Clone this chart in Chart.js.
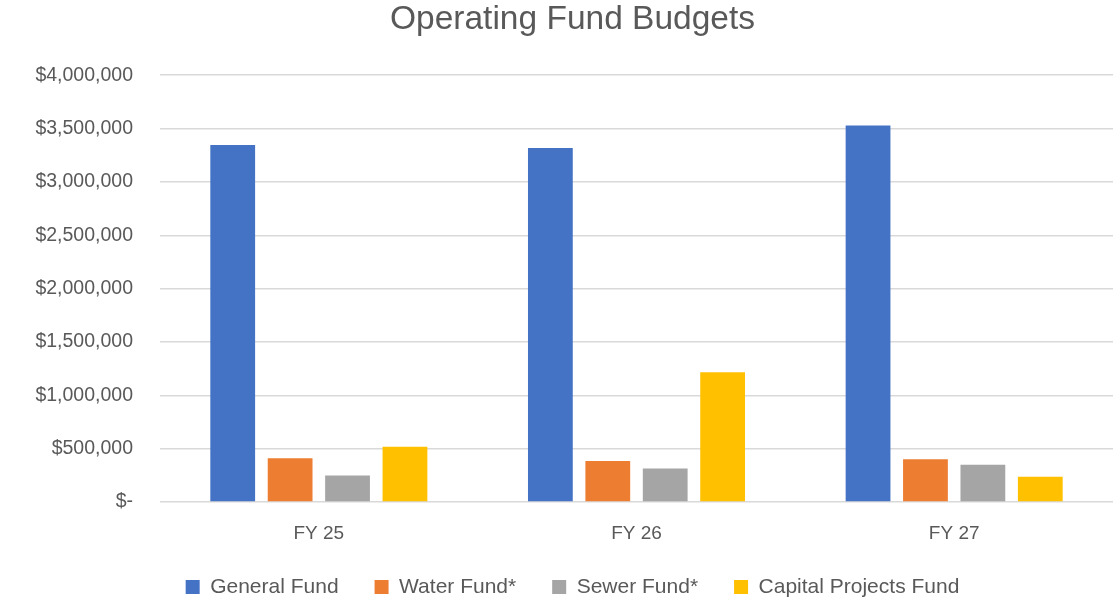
<!DOCTYPE html>
<html>
<head>
<meta charset="utf-8">
<script src="https://cdn.jsdelivr.net/npm/chart.js@4"></script>
<style>
  html, body { margin: 0; padding: 0; background: #fff; }
  #wrap { width: 1115px; height: 600px; }
</style>
</head>
<body>
<div id="wrap"><canvas id="fundChart" width="1115" height="600"></canvas></div>
<script>
  const years = ["FY 25", "FY 26", "FY 27"];
  const generalFund = [3345000, 3317000, 3528000];
  const waterFund = [410000, 385000, 400000];
  const sewerFund = [248000, 313000, 350000];
  const capitalFund = [517000, 1215000, 237000];
  const yTicks = [0, 500000, 1000000, 1500000, 2000000, 2500000, 3000000, 3500000, 4000000];

  const fontFamily = "'Liberation Sans', 'DejaVu Sans', sans-serif";
  const textColor = "#595959";

  // Excel accounting style: $- for zero
  function money(v) {
    if (v === 0) return "$-";
    return "$" + v.toLocaleString("en-US");
  }

  function bar(label, data, color) {
    return {
      label: label,
      data: data,
      backgroundColor: color,
      borderWidth: 0,
      categoryPercentage: 0.723,
      barPercentage: 0.78,
    };
  }

  // legend padding is big for the spacing between items, so clamp its height
  // to keep it near the bottom edge
  const legendHeight = {
    id: "legendHeight",
    beforeLayout(chart) {
      const lg = chart.legend;
      if (lg && !lg._clamped) {
        const fit = lg.fit.bind(lg);
        lg.fit = function () {
          fit();
          this.height = 59.5;
        };
        lg._clamped = true;
      }
    },
  };

  const ctx = document.getElementById("fundChart").getContext("2d");
  new Chart(ctx, {
    type: "bar",
    data: {
      labels: years,
      datasets: [
        bar("General Fund", generalFund, "#4472c4"),
        bar("Water Fund*", waterFund, "#ed7d31"),
        bar("Sewer Fund*", sewerFund, "#a5a5a5"),
        bar("Capital Projects Fund", capitalFund, "#ffc000"),
      ],
    },
    plugins: [legendHeight],
    options: {
      responsive: false,
      animation: false,
      layout: { padding: { top: 0, right: 2, bottom: 0, left: 32 } },
      plugins: {
        title: {
          display: true,
          text: "Operating Fund Budgets",
          color: textColor,
          font: { family: fontFamily, size: 33.5, weight: "normal" },
          padding: { top: 0, bottom: 35 },
        },
        legend: {
          position: "bottom",
          labels: {
            color: textColor,
            font: { family: fontFamily, size: 21 },
            boxWidth: 14,
            boxHeight: 14,
            padding: 36,
          },
        },
        tooltip: { enabled: false },
      },
      scales: {
        x: {
          grid: { display: false, drawTicks: false },
          border: { display: false },
          afterFit: (axis) => {
            axis.height = 38.5;
          },
          ticks: {
            color: textColor,
            font: { family: fontFamily, size: 19 },
            padding: 20,
          },
        },
        y: {
          min: 0,
          max: 4000000,
          afterBuildTicks: (axis) => {
            axis.ticks = yTicks.map((v) => ({ value: v }));
          },
          afterFit: (axis) => {
            axis.width = 128;
          },
          grid: { color: "#d9d9d9", lineWidth: 1.5, drawTicks: false },
          border: { display: false },
          ticks: {
            color: textColor,
            font: { family: fontFamily, size: 19.5 },
            padding: 27,
            callback: (v) => money(v),
          },
        },
      },
    },
  });
</script>
</body>
</html>
